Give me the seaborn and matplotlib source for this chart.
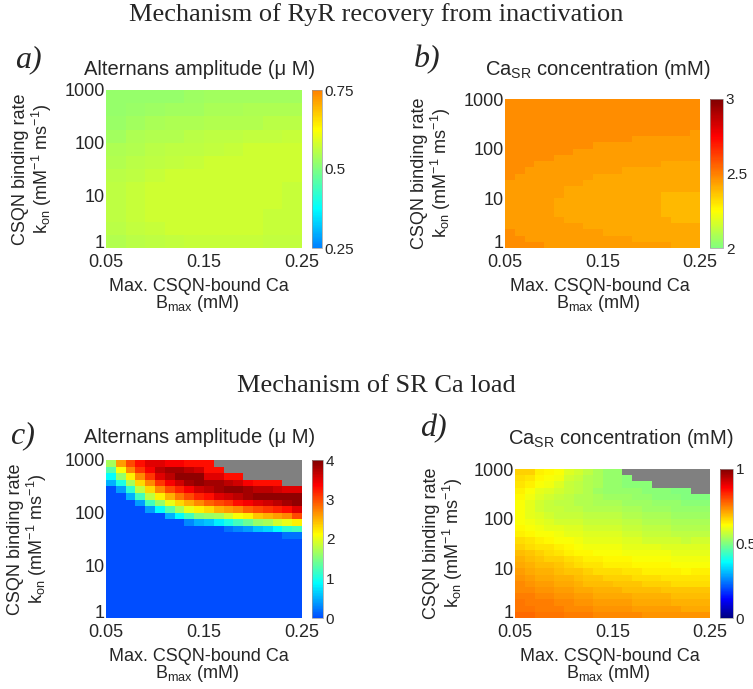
import numpy as np
import pandas as pd
import seaborn as sns
import matplotlib.pyplot as plt
from matplotlib.colors import ListedColormap, LinearSegmentedColormap

nan = np.nan

# panel a: alternans amplitude (uM), RyR mechanism, rows = kon from 1000 down to 1 (0.25 decade), cols = Bmax 0.05..0.25
alt_ryr = [
    [0.52, 0.52, 0.52, 0.52, 0.53, 0.535, 0.535, 0.535, 0.535, 0.535],
    [0.52, 0.525, 0.53, 0.535, 0.535, 0.54, 0.54, 0.545, 0.545, 0.545],
    [0.525, 0.535, 0.54, 0.545, 0.545, 0.55, 0.55, 0.55, 0.555, 0.555],
    [0.535, 0.545, 0.55, 0.55, 0.555, 0.56, 0.56, 0.565, 0.565, 0.57],
    [0.545, 0.55, 0.555, 0.56, 0.56, 0.565, 0.57, 0.575, 0.575, 0.575],
    [0.55, 0.555, 0.56, 0.565, 0.57, 0.575, 0.575, 0.575, 0.575, 0.575],
    [0.555, 0.56, 0.57, 0.575, 0.575, 0.575, 0.575, 0.575, 0.575, 0.575],
    [0.56, 0.57, 0.575, 0.575, 0.575, 0.575, 0.575, 0.575, 0.575, 0.57],
    [0.56, 0.57, 0.575, 0.575, 0.575, 0.575, 0.575, 0.575, 0.575, 0.57],
    [0.56, 0.57, 0.575, 0.575, 0.575, 0.575, 0.575, 0.575, 0.57, 0.57],
    [0.555, 0.565, 0.57, 0.575, 0.575, 0.575, 0.575, 0.575, 0.57, 0.57],
    [0.55, 0.555, 0.56, 0.565, 0.57, 0.57, 0.57, 0.57, 0.565, 0.565],
]

# panel b: Ca_SR (mM), RyR mechanism, rows = kon 1000 -> 1 (0.125 decade), cols = Bmax (0.01 steps)
casr_ryr = [
    [2.475, 2.475, 2.475, 2.475, 2.475, 2.475, 2.475, 2.475, 2.475, 2.475, 2.475, 2.475, 2.475, 2.475, 2.475, 2.475, 2.475, 2.475, 2.475, 2.475],
    [2.475, 2.475, 2.475, 2.475, 2.475, 2.475, 2.475, 2.475, 2.475, 2.475, 2.475, 2.475, 2.475, 2.475, 2.475, 2.475, 2.475, 2.475, 2.475, 2.475],
    [2.475, 2.475, 2.475, 2.475, 2.475, 2.475, 2.475, 2.475, 2.475, 2.475, 2.475, 2.475, 2.475, 2.475, 2.475, 2.475, 2.475, 2.475, 2.475, 2.475],
    [2.475, 2.475, 2.475, 2.475, 2.475, 2.475, 2.475, 2.475, 2.475, 2.475, 2.475, 2.475, 2.475, 2.475, 2.475, 2.475, 2.475, 2.475, 2.475, 2.475],
    [2.475, 2.475, 2.475, 2.475, 2.475, 2.475, 2.475, 2.475, 2.475, 2.475, 2.475, 2.475, 2.475, 2.475, 2.475, 2.475, 2.475, 2.475, 2.475, 2.475],
    [2.475, 2.475, 2.475, 2.475, 2.475, 2.475, 2.475, 2.475, 2.475, 2.475, 2.475, 2.475, 2.475, 2.475, 2.475, 2.475, 2.475, 2.475, 2.475, 2.44],
    [2.475, 2.475, 2.475, 2.475, 2.475, 2.475, 2.475, 2.475, 2.475, 2.475, 2.475, 2.475, 2.475, 2.44, 2.44, 2.44, 2.44, 2.44, 2.44, 2.44],
    [2.475, 2.475, 2.475, 2.475, 2.475, 2.475, 2.475, 2.475, 2.475, 2.44, 2.44, 2.44, 2.44, 2.44, 2.44, 2.44, 2.44, 2.44, 2.44, 2.44],
    [2.475, 2.475, 2.475, 2.475, 2.475, 2.475, 2.475, 2.44, 2.44, 2.44, 2.44, 2.44, 2.44, 2.44, 2.44, 2.44, 2.44, 2.44, 2.44, 2.44],
    [2.475, 2.475, 2.475, 2.475, 2.475, 2.44, 2.44, 2.44, 2.44, 2.44, 2.44, 2.44, 2.44, 2.44, 2.44, 2.44, 2.44, 2.44, 2.44, 2.44],
    [2.475, 2.475, 2.475, 2.44, 2.44, 2.44, 2.44, 2.44, 2.44, 2.44, 2.44, 2.44, 2.44, 2.44, 2.44, 2.44, 2.415, 2.415, 2.415, 2.415],
    [2.475, 2.475, 2.44, 2.44, 2.44, 2.44, 2.44, 2.44, 2.44, 2.44, 2.44, 2.44, 2.415, 2.415, 2.415, 2.415, 2.415, 2.415, 2.415, 2.415],
    [2.475, 2.44, 2.44, 2.44, 2.44, 2.44, 2.44, 2.44, 2.44, 2.415, 2.415, 2.415, 2.415, 2.415, 2.415, 2.415, 2.415, 2.415, 2.415, 2.415],
    [2.44, 2.44, 2.44, 2.44, 2.44, 2.44, 2.44, 2.44, 2.415, 2.415, 2.415, 2.415, 2.415, 2.415, 2.415, 2.415, 2.415, 2.415, 2.415, 2.415],
    [2.44, 2.44, 2.44, 2.44, 2.44, 2.44, 2.415, 2.415, 2.415, 2.415, 2.415, 2.415, 2.415, 2.415, 2.415, 2.415, 2.415, 2.415, 2.415, 2.415],
    [2.44, 2.44, 2.44, 2.44, 2.44, 2.44, 2.415, 2.415, 2.415, 2.415, 2.415, 2.415, 2.415, 2.415, 2.415, 2.415, 2.39, 2.39, 2.39, 2.39],
    [2.44, 2.44, 2.44, 2.44, 2.44, 2.415, 2.415, 2.415, 2.415, 2.415, 2.415, 2.415, 2.415, 2.415, 2.415, 2.415, 2.39, 2.39, 2.39, 2.39],
    [2.44, 2.44, 2.44, 2.44, 2.44, 2.415, 2.415, 2.415, 2.415, 2.415, 2.415, 2.415, 2.415, 2.415, 2.415, 2.415, 2.39, 2.39, 2.39, 2.39],
    [2.44, 2.44, 2.44, 2.44, 2.44, 2.415, 2.415, 2.415, 2.415, 2.415, 2.415, 2.415, 2.415, 2.415, 2.415, 2.415, 2.39, 2.39, 2.39, 2.39],
    [2.44, 2.44, 2.44, 2.44, 2.44, 2.44, 2.415, 2.415, 2.415, 2.415, 2.415, 2.415, 2.415, 2.415, 2.415, 2.415, 2.415, 2.39, 2.39, 2.39],
    [2.44, 2.44, 2.44, 2.44, 2.44, 2.44, 2.44, 2.44, 2.415, 2.415, 2.415, 2.415, 2.415, 2.415, 2.415, 2.415, 2.415, 2.415, 2.415, 2.415],
    [2.475, 2.44, 2.44, 2.44, 2.44, 2.44, 2.44, 2.44, 2.44, 2.44, 2.415, 2.415, 2.415, 2.415, 2.415, 2.415, 2.415, 2.415, 2.415, 2.415],
    [2.475, 2.475, 2.44, 2.44, 2.44, 2.44, 2.44, 2.44, 2.44, 2.44, 2.44, 2.44, 2.44, 2.415, 2.415, 2.415, 2.415, 2.415, 2.415, 2.415],
    [2.475, 2.475, 2.475, 2.475, 2.44, 2.44, 2.44, 2.44, 2.44, 2.44, 2.44, 2.44, 2.44, 2.44, 2.44, 2.44, 2.44, 2.415, 2.415, 2.415],
]

# panel c: alternans amplitude (uM), SR load mechanism. one list per Bmax column,
# top 12 rows (kon 1000 -> ~32); below that everything is 0 (blue). nan = no steady state (gray)
alt_sr_top = [
    [1.7, 1.3, 0.9, 0.5, 0, 0, 0, 0, 0, 0, 0, 0],
    [2.6, 2.1, 1.6, 1.0, 0.4, 0, 0, 0, 0, 0, 0, 0],
    [3.0, 2.7, 2.2, 1.7, 1.1, 0.5, 0, 0, 0, 0, 0, 0],
    [3.3, 3.1, 2.7, 2.3, 1.8, 1.2, 0.4, 0, 0, 0, 0, 0],
    [3.5, 3.4, 3.1, 2.7, 2.3, 1.8, 1.2, 0.4, 0, 0, 0, 0],
    [3.5, 3.7, 3.5, 3.1, 2.7, 2.2, 1.6, 0.9, 0, 0, 0, 0],
    [3.4, 3.8, 3.7, 3.4, 3.0, 2.5, 2.0, 1.3, 0.5, 0, 0, 0],
    [3.4, 3.8, 3.9, 3.6, 3.2, 2.8, 2.3, 1.7, 0.9, 0, 0, 0],
    [3.3, 3.7, 3.9, 3.8, 3.4, 3.0, 2.5, 2.0, 1.2, 0.3, 0, 0],
    [3.3, 3.6, 3.9, 3.9, 3.6, 3.2, 2.7, 2.2, 1.5, 0.5, 0, 0],
    [3.3, 3.3, 3.5, 3.8, 3.7, 3.3, 2.9, 2.3, 1.6, 0.6, 0, 0],
    [nan, 3.3, 3.5, 3.8, 3.8, 3.5, 3.0, 2.5, 1.7, 0.8, 0, 0],
    [nan, nan, 3.3, 3.7, 3.9, 3.6, 3.1, 2.6, 1.9, 1.0, 0.2, 0],
    [nan, nan, 3.3, 3.6, 3.9, 3.7, 3.3, 2.7, 2.1, 1.2, 0.3, 0],
    [nan, nan, nan, 3.4, 3.8, 3.8, 3.4, 2.9, 2.2, 1.4, 0.4, 0],
    [nan, nan, nan, 3.3, 3.7, 3.9, 3.5, 3.0, 2.4, 1.6, 0.6, 0],
    [nan, nan, nan, 3.3, 3.7, 3.9, 3.6, 3.1, 2.5, 1.7, 0.7, 0],
    [nan, nan, nan, 3.3, 3.6, 3.9, 3.7, 3.2, 2.6, 1.9, 0.9, 0],
    [nan, nan, nan, nan, 3.5, 3.9, 3.8, 3.3, 2.7, 2.0, 1.1, 0.2],
    [nan, nan, nan, nan, 3.5, 3.9, 3.9, 3.5, 3.0, 2.2, 1.2, 0.2],
]

# panel d: Ca_SR (mM), SR load mechanism, one list per Bmax column, kon 1000 -> 1
casr_sr = [
    [0.67, 0.66, 0.65, 0.64, 0.63, 0.62, 0.62, 0.62, 0.62, 0.63, 0.64, 0.66, 0.67, 0.69, 0.70, 0.71, 0.72, 0.73, 0.74, 0.74, 0.75, 0.76, 0.76, 0.77],
    [0.67, 0.65, 0.64, 0.62, 0.61, 0.60, 0.60, 0.60, 0.61, 0.62, 0.63, 0.65, 0.66, 0.68, 0.69, 0.70, 0.71, 0.72, 0.73, 0.74, 0.75, 0.75, 0.76, 0.77],
    [0.64, 0.63, 0.62, 0.60, 0.59, 0.58, 0.58, 0.59, 0.60, 0.61, 0.62, 0.64, 0.65, 0.67, 0.68, 0.69, 0.70, 0.71, 0.72, 0.73, 0.74, 0.75, 0.75, 0.76],
    [0.63, 0.62, 0.61, 0.59, 0.58, 0.57, 0.57, 0.58, 0.59, 0.60, 0.62, 0.63, 0.65, 0.66, 0.67, 0.69, 0.70, 0.71, 0.72, 0.73, 0.74, 0.75, 0.75, 0.76],
    [0.62, 0.61, 0.59, 0.58, 0.57, 0.56, 0.57, 0.57, 0.58, 0.60, 0.61, 0.62, 0.64, 0.65, 0.67, 0.68, 0.69, 0.70, 0.71, 0.72, 0.73, 0.74, 0.75, 0.76],
    [0.59, 0.58, 0.57, 0.57, 0.56, 0.56, 0.56, 0.57, 0.58, 0.59, 0.60, 0.62, 0.63, 0.64, 0.66, 0.67, 0.68, 0.70, 0.71, 0.72, 0.73, 0.74, 0.74, 0.75],
    [0.58, 0.57, 0.56, 0.56, 0.55, 0.55, 0.56, 0.57, 0.58, 0.59, 0.60, 0.61, 0.62, 0.63, 0.65, 0.66, 0.68, 0.69, 0.70, 0.71, 0.72, 0.73, 0.74, 0.75],
    [0.56, 0.55, 0.55, 0.55, 0.55, 0.55, 0.55, 0.56, 0.57, 0.58, 0.59, 0.60, 0.61, 0.63, 0.64, 0.65, 0.67, 0.68, 0.69, 0.71, 0.72, 0.73, 0.74, 0.75],
    [0.54, 0.54, 0.54, 0.53, 0.54, 0.54, 0.55, 0.56, 0.57, 0.58, 0.59, 0.60, 0.61, 0.62, 0.64, 0.65, 0.66, 0.68, 0.69, 0.70, 0.71, 0.72, 0.73, 0.74],
    [0.52, 0.52, 0.52, 0.52, 0.53, 0.54, 0.55, 0.56, 0.57, 0.58, 0.59, 0.60, 0.61, 0.62, 0.63, 0.64, 0.66, 0.67, 0.69, 0.70, 0.71, 0.72, 0.73, 0.74],
    [0.52, 0.52, 0.52, 0.52, 0.53, 0.54, 0.55, 0.56, 0.57, 0.58, 0.59, 0.60, 0.61, 0.62, 0.63, 0.64, 0.66, 0.67, 0.68, 0.70, 0.71, 0.72, 0.73, 0.74],
    [nan, 0.51, 0.51, 0.52, 0.53, 0.53, 0.54, 0.55, 0.56, 0.57, 0.58, 0.59, 0.60, 0.61, 0.63, 0.64, 0.65, 0.67, 0.68, 0.69, 0.71, 0.72, 0.73, 0.74],
    [nan, nan, 0.51, 0.52, 0.52, 0.53, 0.54, 0.55, 0.56, 0.57, 0.58, 0.59, 0.60, 0.61, 0.62, 0.63, 0.65, 0.66, 0.68, 0.69, 0.70, 0.71, 0.72, 0.74],
    [nan, nan, 0.51, 0.51, 0.52, 0.53, 0.53, 0.54, 0.55, 0.56, 0.57, 0.58, 0.60, 0.61, 0.62, 0.63, 0.64, 0.66, 0.67, 0.69, 0.70, 0.71, 0.72, 0.73],
    [nan, nan, nan, 0.51, 0.51, 0.52, 0.53, 0.54, 0.55, 0.56, 0.57, 0.58, 0.60, 0.61, 0.62, 0.63, 0.64, 0.66, 0.67, 0.69, 0.70, 0.71, 0.72, 0.73],
    [nan, nan, nan, 0.51, 0.51, 0.52, 0.53, 0.54, 0.55, 0.56, 0.57, 0.58, 0.59, 0.61, 0.62, 0.63, 0.64, 0.65, 0.67, 0.68, 0.70, 0.71, 0.72, 0.73],
    [nan, nan, nan, 0.50, 0.51, 0.52, 0.52, 0.53, 0.54, 0.55, 0.56, 0.58, 0.59, 0.60, 0.61, 0.62, 0.64, 0.65, 0.66, 0.68, 0.69, 0.70, 0.72, 0.73],
    [nan, nan, nan, 0.50, 0.50, 0.51, 0.52, 0.53, 0.54, 0.55, 0.56, 0.57, 0.59, 0.60, 0.61, 0.62, 0.63, 0.65, 0.66, 0.68, 0.69, 0.70, 0.71, 0.73],
    [nan, nan, nan, nan, 0.50, 0.51, 0.52, 0.53, 0.54, 0.55, 0.56, 0.58, 0.59, 0.60, 0.61, 0.62, 0.64, 0.65, 0.66, 0.68, 0.69, 0.70, 0.71, 0.73],
    [nan, nan, nan, nan, 0.50, 0.51, 0.52, 0.53, 0.54, 0.55, 0.56, 0.58, 0.59, 0.60, 0.61, 0.62, 0.64, 0.65, 0.66, 0.68, 0.69, 0.70, 0.71, 0.73],
]

bmax_ticks = ['0.05', '0.15', '0.25']
kon_ticks = ['1000', '100', '10', '1']

W, H = 753, 689

# matlab style jet (a bit more orange than matplotlib's)
mjet = LinearSegmentedColormap('mjet', {
    'red': [(0, 0, 0), (0.375, 0, 0), (0.625, 1, 1), (0.875, 1, 1), (1, 0.5, 0.5)],
    'green': [(0, 0, 0), (0.125, 0, 0), (0.375, 1, 1), (0.625, 1, 1), (0.875, 0, 0), (1, 0, 0)],
    'blue': [(0, 0.5, 0.5), (0.125, 1, 1), (0.375, 1, 1), (0.625, 0, 0), (1, 0, 0)],
})


def box(l, t, r, b):
    # pixel box -> figure fraction
    return [l / W, 1 - b / H, (r - l) / W, (b - t) / H]


def jet_part(lo, hi):
    return ListedColormap(mjet(np.linspace(lo, hi, 256)))


def draw_panel(fig, axbox, cbox, grid, cmap, vmin, vmax, cticks, clabels):
    grid = np.array(grid, dtype=float)
    nrow, ncol = grid.shape
    bmax = np.linspace(0.05, 0.25, ncol + 1)
    kon = np.logspace(3, 0, nrow + 1)
    df = pd.DataFrame(grid, index=np.round(kon[:-1], 2), columns=np.round(bmax[:-1], 3))
    ax = fig.add_axes(box(*axbox))
    cax = fig.add_axes(box(*cbox))
    sns.heatmap(df, ax=ax, cbar_ax=cax, cmap=cmap, vmin=vmin, vmax=vmax,
                xticklabels=False, yticklabels=False)
    ax.set_facecolor('#808080')
    ax.set_xticks([0, ncol / 2, ncol])
    ax.set_xticklabels(bmax_ticks)
    ax.set_yticks([0, nrow / 3, 2 * nrow / 3, nrow])
    ax.set_yticklabels(kon_ticks, rotation=0)
    ax.tick_params(length=0, labelsize=13, pad=1)
    ax.tick_params(axis='x', pad=4)
    # the "1" sits just above the "0.05" as in the original
    ax.get_yticklabels()[-1].set_va('baseline')
    ax.set_xlabel('')
    ax.set_ylabel('')
    cax.set_yticks(cticks)
    cax.set_yticklabels(clabels)
    cax.tick_params(length=0, labelsize=11, pad=2)
    cbar = ax.collections[0].colorbar
    cbar.outline.set_linewidth(0.5)
    cbar.outline.set_edgecolor('#999999')
    return ax


sns.set_style('white')
plt.rcParams['font.family'] = ['Liberation Sans', 'DejaVu Sans']
plt.rcParams['mathtext.fontset'] = 'custom'
plt.rcParams['mathtext.rm'] = 'Liberation Sans'
plt.rcParams['mathtext.it'] = 'Liberation Sans:italic'

fig = plt.figure(figsize=(W / 100, H / 100), dpi=100)

alt_sr = np.vstack([np.array(alt_sr_top, dtype=float).T, np.zeros((12, 20))])
casr_sr_grid = np.array(casr_sr, dtype=float).T

draw_panel(fig, (106, 90, 302, 248), (312, 90, 322, 248), alt_ryr,
           jet_part(0.25, 0.75), 0.25, 0.75, [0.25, 0.5, 0.75], ['0.25', '0.5', '0.75'])
draw_panel(fig, (505, 99, 700, 248), (710, 99, 723, 248), casr_ryr,
           jet_part(0.5, 1.0), 2, 3, [2, 2.5, 3], ['2', '2.5', '3'])
draw_panel(fig, (106, 460, 302, 618), (312, 460, 323, 618), alt_sr,
           jet_part(0.2, 1.0), 0, 4, [0, 1, 2, 3, 4], ['0', '1', '2', '3', '4'])
draw_panel(fig, (515, 469, 710, 618), (720, 469, 733, 618), casr_sr_grid,
           jet_part(0.0, 1.0), 0, 1, [0, 0.5, 1], ['0', '0.5', '1'])


def ftext(x, y, s, **kw):
    fig.text(x / W, 1 - y / H, s, **kw)


serif = ['Liberation Serif', 'DejaVu Serif']
ftext(376, 15, 'Mechanism of RyR recovery from inactivation', family=serif, fontsize=19,
      ha='center', va='center')
ftext(376, 386, 'Mechanism of SR Ca load', family=serif, fontsize=19, ha='center', va='center')

for (x, y, s) in [(28, 60, 'a)'), (427, 60, 'b)'), (22, 436, 'c)'), (433, 429, 'd)')]:
    ftext(x, y, s, family=serif, style='italic', fontsize=23, ha='center', va='center')

alt_title = 'Alternans amplitude (\u03bc M)'
casr_title = 'Ca$_{\\rm SR}$ concentration (mM)'
for (x, y, s) in [(200, 75, alt_title), (598, 75, casr_title),
                  (200, 443, alt_title), (621, 444, casr_title)]:
    ftext(x, y, s, fontsize=14.5, ha='center', va='baseline')

ylab = 'CSQN binding rate\nk$_{\\rm on}$ (mM$^{-1}$ ms$^{-1}$)'
for (x, y) in [(33, 169), (432, 173), (28, 539), (444, 543)]:
    ftext(x, y, ylab, fontsize=13, rotation=90, ha='center', va='center',
          multialignment='center', linespacing=1.0)

for (x, y1) in [(199, 291), (600, 291), (199, 661), (610, 661)]:
    ftext(x, y1, 'Max. CSQN-bound Ca', fontsize=13, ha='center', va='baseline')
    ftext(x - 2, y1 + 17, 'B$_{\\rm max}$ (mM)', fontsize=13, ha='center', va='baseline')

fig.savefig('out.png', dpi=100)
